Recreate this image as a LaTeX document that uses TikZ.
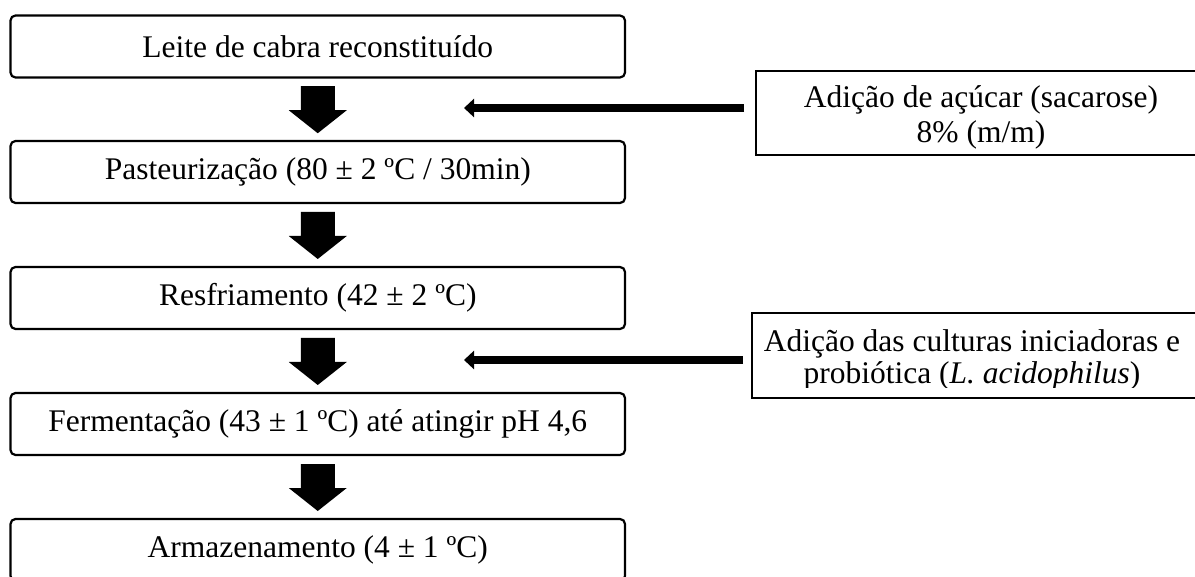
\documentclass[tikz,border=0pt]{standalone}
\usepackage{fontspec}
\setmainfont{Liberation Serif}
\usetikzlibrary{arrows.meta}
\begin{document}
\begin{tikzpicture}[x=1pt,y=-1pt,
  txt/.style={font=\fontsize{31.5}{35}\selectfont},
  stepbox/.style={txt, draw, line width=2.2pt, rounded corners=5pt,
    minimum width=614.5pt, minimum height=62pt, inner sep=0pt},
  addbox/.style={draw, line width=2pt, inner sep=0pt},
  addarrow/.style={line width=8pt, -{Triangle[length=10pt,width=18pt]}},
  downarrow/.style={fill=black}
]
\useasboundingbox (0,0) rectangle (1195,577);

% main steps
\node[stepbox] (s1) at (317.75,46.5) {Leite de cabra reconstituído};
\node[stepbox] (s2) at (317.75,172) {Pasteurização (80 ± 2 ºC / 30min)};
\node[stepbox] (s3) at (317.75,298) {Resfriamento (42 ± 2 ºC)};
\node[stepbox] (s4) at (317.75,424) {Fermentação (43 ± 1 ºC) até atingir pH 4,6};
\node[stepbox] (s5) at (317.75,550) {Armazenamento (4 ± 1 ºC)};

% block arrows between steps
\foreach \a/\b in {s1/s2, s2/s3, s3/s4, s4/s5}{
  \path (\a.south) -- coordinate[pos=0.5] (m\a) (\b.north);
  \fill[downarrow] (m\a) ++(-17,-23) -- ++(34,0) -- ++(0,24) -- ++(12,0)
     -- ++(-29,23) -- ++(-29,-23) -- ++(12,0) -- cycle;
}

% addition boxes
\node[addbox, minimum width=450pt, minimum height=84pt] (r1) at (981,113) {};
\node[txt, align=center, inner sep=0pt] (r1t) at (981,117)
  {Adição de açúcar (sacarose)\\8\% (m/m)};
\begin{scope}
  \clip (752,313) rectangle (1200,388);
  \node[txt, align=center, inner sep=0pt] (r2t) at (972,360.4)
    {Adição das culturas iniciadoras e\\[-3pt]probiótica (\textit{L. acidophilus})};
\end{scope}
\node[addbox, minimum width=448pt, minimum height=85pt] (r2) at (976,355.5) {};

% addition arrows
\coordinate (t1) at (464,108);
\coordinate (t2) at (464,360);
\draw[addarrow] (r1.west |- t1) ++(-11,0) -- (t1);
\draw[addarrow] (r2.west |- t2) ++(-8,0) -- (t2);
\end{tikzpicture}
\end{document}
